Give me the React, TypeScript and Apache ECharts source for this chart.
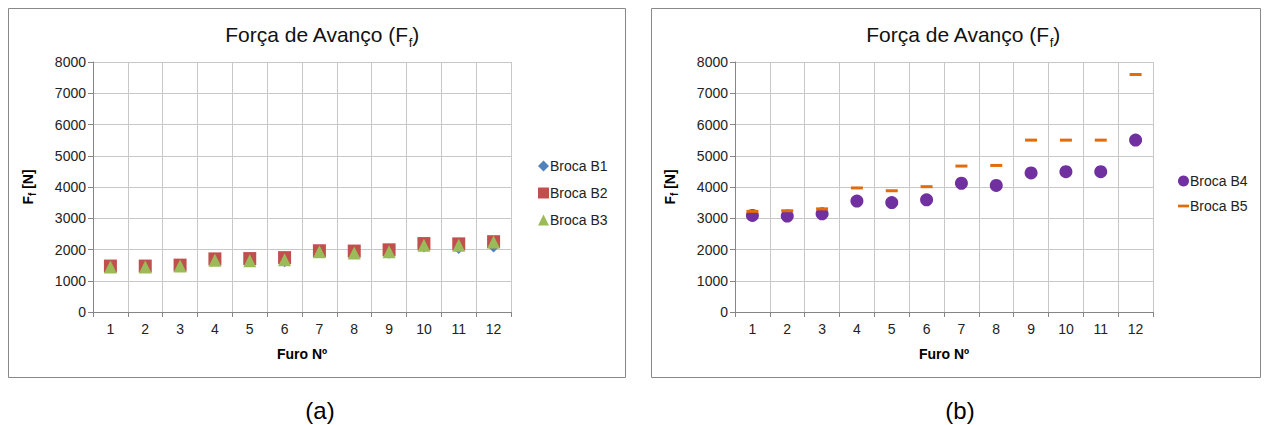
import React, { useEffect, useRef } from "react";
import * as echarts from "echarts";

const categories = ["1", "2", "3", "4", "5", "6", "7", "8", "9", "10", "11", "12"];
const b1 = [1400, 1400, 1430, 1620, 1580, 1580, 1880, 1830, 1850, 2050, 2000, 2050];
const b2 = [1470, 1470, 1500, 1700, 1710, 1740, 1960, 1950, 1990, 2190, 2180, 2250];
const b3 = [1440, 1440, 1470, 1660, 1640, 1670, 1930, 1890, 1930, 2140, 2140, 2240];
const b4 = [3090, 3070, 3140, 3550, 3500, 3590, 4120, 4050, 4450, 4490, 4490, 5500];
const b5 = [3220, 3240, 3300, 3970, 3880, 4010, 4670, 4690, 5500, 5500, 5500, 7600];

const FONT = "Liberation Sans, Arial, sans-serif";
const DASH = "path://M0,0h12v3h-12z";

function yAxis(gridIndex: number) {
  return {
    type: "value",
    gridIndex,
    min: 0,
    max: 8000,
    interval: 1000,
    name: "{b|F}{s|f}{b| [N]}",
    nameLocation: "middle",
    nameGap: 56,
    nameRotate: 90,
    nameTextStyle: {
      rich: {
        b: { fontFamily: FONT, fontSize: 14, fontWeight: "bold", color: "#000" },
        s: { fontFamily: FONT, fontSize: 10, fontWeight: "bold", color: "#000", verticalAlign: "bottom", padding: [8, 0, 0, 0] },
      },
    },
    axisLine: { show: true, lineStyle: { color: "#868686", width: 1 } },
    axisTick: { show: true, length: 5, lineStyle: { color: "#868686" } },
    axisLabel: { fontFamily: FONT, fontSize: 14, color: "#222", margin: 7, formatter: (v: number) => String(v) },
    splitLine: { show: true, lineStyle: { color: "#C8C8C8", width: 1 } },
  };
}

function xAxis(gridIndex: number) {
  return {
    type: "category",
    gridIndex,
    data: categories,
    boundaryGap: true,
    name: "Furo Nº",
    nameLocation: "middle",
    nameGap: 35,
    nameTextStyle: { fontFamily: FONT, fontSize: 14, fontWeight: "bold", color: "#000" },
    axisLine: { show: true, lineStyle: { color: "#868686", width: 1 } },
    axisTick: { show: true, alignWithLabel: false, interval: 0, length: 5, lineStyle: { color: "#868686" } },
    axisLabel: { fontFamily: FONT, fontSize: 14, color: "#222", margin: 10, interval: 0 },
    splitLine: { show: true, interval: 0, lineStyle: { color: "#C8C8C8", width: 1 } },
  };
}

const titleRich = {
  t: { fontFamily: FONT, fontSize: 21, fontWeight: "normal", color: "#111" },
  s: { fontFamily: FONT, fontSize: 13, fontWeight: "normal", color: "#111", verticalAlign: "bottom", padding: [16, 0, 0, 0] },
};

export default function App() {
  const ref = useRef<HTMLDivElement>(null);
  useEffect(() => {
    if (!ref.current) return;
    const chart = echarts.init(ref.current, null, { renderer: "svg" });
    chart.setOption({
      animation: false,
      backgroundColor: "#fff",
      title: [
        { text: "{t|Força de Avanço (F}{s|f}{t|)}", left: 317, top: 15, textAlign: "center", textStyle: { fontWeight: "normal", rich: titleRich } },
        { text: "{t|Força de Avanço (F}{s|f}{t|)}", left: 958, top: 15, textAlign: "center", textStyle: { fontWeight: "normal", rich: titleRich } },
      ],
      grid: [
        { left: 93, top: 62, width: 418, height: 250, containLabel: false },
        { left: 735, top: 62, width: 418, height: 250, containLabel: false },
      ],
      xAxis: [xAxis(0), xAxis(1)],
      yAxis: [yAxis(0), yAxis(1)],
      legend: [
        {
          left: 533,
          top: 154,
          orient: "vertical",
          itemGap: 13,
          itemWidth: 11,
          itemHeight: 11,
          textStyle: { fontFamily: FONT, fontSize: 14, color: "#222", padding: [0, 0, 0, -4] },
          data: [
            { name: "Broca B1", icon: "diamond" },
            { name: "Broca B2", icon: "rect" },
            { name: "Broca B3", icon: "triangle" },
          ],
        },
        {
          left: 1173,
          top: 169,
          orient: "vertical",
          itemGap: 11,
          itemWidth: 11,
          itemHeight: 11,
          textStyle: { fontFamily: FONT, fontSize: 14, color: "#222", padding: [0, 0, 0, -4] },
          data: [
            { name: "Broca B4", icon: "circle" },
            { name: "Broca B5", icon: DASH },
          ],
        },
      ],
      series: [
        { name: "Broca B1", type: "scatter", xAxisIndex: 0, yAxisIndex: 0, symbol: "diamond", symbolSize: 9, itemStyle: { color: "#4F81BD", opacity: 1 }, data: b1 },
        { name: "Broca B2", type: "scatter", xAxisIndex: 0, yAxisIndex: 0, symbol: "rect", symbolSize: 13, itemStyle: { color: "#C0504D", opacity: 1 }, data: b2 },
        { name: "Broca B3", type: "scatter", xAxisIndex: 0, yAxisIndex: 0, symbol: "triangle", symbolSize: 13, itemStyle: { color: "#9BBB59", opacity: 1 }, data: b3 },
        { name: "Broca B4", type: "scatter", xAxisIndex: 1, yAxisIndex: 1, symbol: "circle", symbolSize: 13, itemStyle: { color: "#7030A0", opacity: 1 }, data: b4 },
        { name: "Broca B5", type: "scatter", xAxisIndex: 1, yAxisIndex: 1, symbol: DASH, symbolSize: [12, 3], symbolKeepAspect: false, itemStyle: { color: "#E36C09", opacity: 1 }, data: b5 },
      ],
      graphic: [
        { type: "rect", shape: { x: 8.5, y: 8.5, width: 617, height: 369 }, style: { fill: "none", stroke: "#888", lineWidth: 1 }, silent: true },
        { type: "rect", shape: { x: 651.5, y: 8.5, width: 609, height: 369 }, style: { fill: "none", stroke: "#888", lineWidth: 1 }, silent: true },
        { type: "text", x: 320, y: 410, style: { text: "(a)", fontFamily: FONT, fontSize: 24, fill: "#000", align: "center", verticalAlign: "middle" } },
        { type: "text", x: 960, y: 410, style: { text: "(b)", fontFamily: FONT, fontSize: 24, fill: "#000", align: "center", verticalAlign: "middle" } },
      ],
    });
    return () => chart.dispose();
  }, []);
  return <div ref={ref} style={{ position: "absolute", left: 0, top: 0, width: 1266, height: 425 }} />;
}
